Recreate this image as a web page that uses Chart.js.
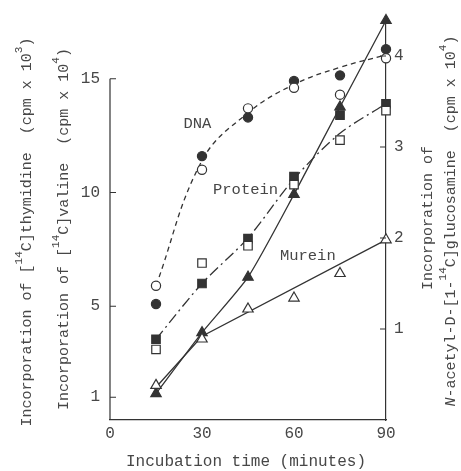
<!DOCTYPE html>
<html>
<head>
<meta charset="utf-8">
<script src="https://cdn.jsdelivr.net/npm/chart.js@4"></script>
<style>
  html, body { margin: 0; padding: 0; background: #fff; }
  #wrap { width: 461px; height: 471px; }
</style>
</head>
<body>
<div id="wrap"><canvas id="chart" width="461" height="471"></canvas></div>
<script>
const minutes = [15, 30, 45, 60, 75, 90];
const xTicks = [0, 30, 60, 90];
const leftTicks = [1, 5, 10, 15];
const rightTicks = [1, 2, 3, 4];

// DNA: [14C]thymidine, cpm x 10^3 (left axis)
const dnaFilled = [5.1, 11.6, 13.3, 14.9, 15.15, 16.3];
const dnaOpen = [5.9, 11.0, 13.7, 14.6, 14.3, 15.9];
const dnaCurve = [5.9, 11.4, 13.5, 14.75, 15.5, 16.05];

// Protein: [14C]valine, cpm x 10^4 (left axis)
const proteinFilled = [3.55, 6.0, 7.97, 10.7, 13.4, 13.9];
const proteinOpen = [3.1, 6.9, 7.66, 10.35, 12.3, 13.6];
const proteinCurve = [3.55, 6.0, 8.0, 10.6, 12.6, 13.9];

// Murein: N-acetyl-D-[1-14C]glucosamine, cpm x 10^4 (right axis)
const mureinOpen = [0.38, 0.89, 1.22, 1.34, 1.61, 1.98];
const mureinLineMinutes = [15, 30, 90];
const mureinLine = [0.36, 0.92, 1.98];
const mureinFilled = [0.29, 0.96, 1.57, 2.48, 3.44, 4.39];

const ink = '#333';
const textInk = '#474747';
const FONT = '"Liberation Mono", "DejaVu Sans Mono", monospace';

function pts(xs, ys) {
  return xs.map((x, i) => ({ x, y: ys[i] }));
}

function curve(data, axis, dash, tension) {
  return {
    data, yAxisID: axis, showLine: true, pointRadius: 0,
    borderColor: ink, borderWidth: 1.3, borderDash: dash,
    tension, order: 10, clip: false,
  };
}

function markers(data, axis, style, filled, radius) {
  return {
    data, yAxisID: axis, showLine: false, pointStyle: style,
    pointRadius: radius, pointBorderWidth: 1.2,
    pointBorderColor: ink,
    pointBackgroundColor: filled ? ink : '#fff',
    order: 1, clip: false,
  };
}

// rotated (or not) text with superscripts / italics
function drawRich(ctx, parts, cx, cy, size, angle) {
  ctx.save();
  ctx.translate(cx, cy);
  ctx.rotate(angle);
  ctx.fillStyle = textInk;
  ctx.textBaseline = 'middle';
  ctx.textAlign = 'left';
  const fontOf = (p) => `${p.it ? 'italic ' : ''}${p.sup ? size * 0.74 : size}px ${FONT}`;
  let total = 0;
  parts.forEach((p) => { ctx.font = fontOf(p); total += ctx.measureText(p.t).width; });
  let x = -total / 2;
  parts.forEach((p) => {
    ctx.font = fontOf(p);
    ctx.fillText(p.t, x, p.sup ? -size * 0.52 : 0);
    x += ctx.measureText(p.t).width;
  });
  ctx.restore();
}

const notes = [
  { text: 'DNA', x: 28.5, y: 13.0 },
  { text: 'Protein', x: 44.2, y: 10.1 },
  { text: 'Murein', x: 64.5, y: 7.2 },
];

const decorPlugin = {
  id: 'decor',
  afterDraw(chart) {
    const { ctx, chartArea } = chart;
    const { x, y, y1 } = chart.scales;
    ctx.save();
    ctx.strokeStyle = ink;
    ctx.lineWidth = 1.2;
    ctx.beginPath();
    ctx.moveTo(chartArea.left, y.getPixelForValue(0));
    ctx.lineTo(chartArea.left, y.getPixelForValue(15));
    leftTicks.forEach((v) => {
      const py = y.getPixelForValue(v);
      ctx.moveTo(chartArea.left, py);
      ctx.lineTo(chartArea.left + 6, py);
    });
    rightTicks.forEach((v) => {
      const py = y1.getPixelForValue(v);
      ctx.moveTo(chartArea.right, py);
      ctx.lineTo(chartArea.right - 6, py);
    });
    ctx.stroke();

    ctx.fillStyle = textInk;
    ctx.font = `15.5px ${FONT}`;
    ctx.textAlign = 'center';
    ctx.textBaseline = 'middle';
    notes.forEach((n) => {
      ctx.fillText(n.text, x.getPixelForValue(n.x), y.getPixelForValue(n.y));
    });
    ctx.restore();

    const up = -Math.PI / 2;
    drawRich(ctx, [
      { t: 'Incorporation of [' }, { t: '14', sup: true },
      { t: 'C]thymidine  (cpm x 10' }, { t: '3', sup: true }, { t: ')' },
    ], 27, 232, 15, up);
    drawRich(ctx, [
      { t: 'Incorporation of [' }, { t: '14', sup: true },
      { t: 'C]valine  (cpm x 10' }, { t: '4', sup: true }, { t: ')' },
    ], 64, 229, 15, up);
    drawRich(ctx, [{ t: 'Incorporation of' }], 428, 218, 15, up);
    drawRich(ctx, [
      { t: 'N', it: true }, { t: '-acetyl-D-[1-' }, { t: '14', sup: true },
      { t: 'C]glucosamine  (cpm x 10' }, { t: '4', sup: true }, { t: ')' },
    ], 451, 221, 15, up);
    drawRich(ctx, [{ t: 'Incubation time (minutes)' }], 246, 462, 16, 0);
  },
};

new Chart(document.getElementById('chart'), {
  type: 'scatter',
  data: {
    datasets: [
      curve(pts(minutes, dnaCurve), 'y', [5, 4], 0.4),
      curve(pts(minutes, proteinCurve), 'y', [11, 4, 2, 4], 0.3),
      curve(pts(mureinLineMinutes, mureinLine), 'y1', [], 0),
      curve(pts(minutes, mureinFilled), 'y1', [], 0.2),
      markers(pts(minutes, dnaOpen), 'y', 'circle', false, 4.6),
      markers(pts(minutes, dnaFilled), 'y', 'circle', true, 4.6),
      markers(pts(minutes, proteinOpen), 'y', 'rect', false, 6),
      markers(pts(minutes, proteinFilled), 'y', 'rect', true, 6),
      markers(pts(minutes, mureinOpen), 'y1', 'triangle', false, 6),
      markers(pts(minutes, mureinFilled), 'y1', 'triangle', true, 6),
    ],
  },
  options: {
    responsive: false,
    animation: false,
    layout: { padding: { top: 12, left: 0, right: 0, bottom: 0 } },
    plugins: { legend: { display: false }, tooltip: { enabled: false } },
    scales: {
      x: {
        type: 'linear', min: 0, max: 90,
        afterBuildTicks: (s) => { s.ticks = xTicks.map((v) => ({ value: v })); },
        afterFit: (s) => { s.height = 51; },
        ticks: { autoSkip: false, maxRotation: 0, padding: 4, color: textInk, font: { family: FONT, size: 16 } },
        grid: { display: false, drawTicks: false },
        border: { display: true, color: ink, width: 1.2 },
      },
      y: {
        position: 'left', min: 0, max: 17.6,
        afterBuildTicks: (s) => { s.ticks = leftTicks.map((v) => ({ value: v })); },
        afterFit: (s) => { s.width = 110; },
        ticks: { autoSkip: false, padding: 10, color: textInk, font: { family: FONT, size: 16 } },
        grid: { display: false, drawTicks: false },
        border: { display: false },
      },
      y1: {
        position: 'right', min: 0, max: 4.4,
        afterBuildTicks: (s) => { s.ticks = rightTicks.map((v) => ({ value: v })); },
        afterFit: (s) => { s.width = 75; },
        ticks: { autoSkip: false, padding: 8, color: textInk, font: { family: FONT, size: 16 } },
        grid: { display: false, drawTicks: false },
        border: { display: true, color: ink, width: 1.2 },
      },
    },
  },
  plugins: [decorPlugin],
});
</script>
</body>
</html>
